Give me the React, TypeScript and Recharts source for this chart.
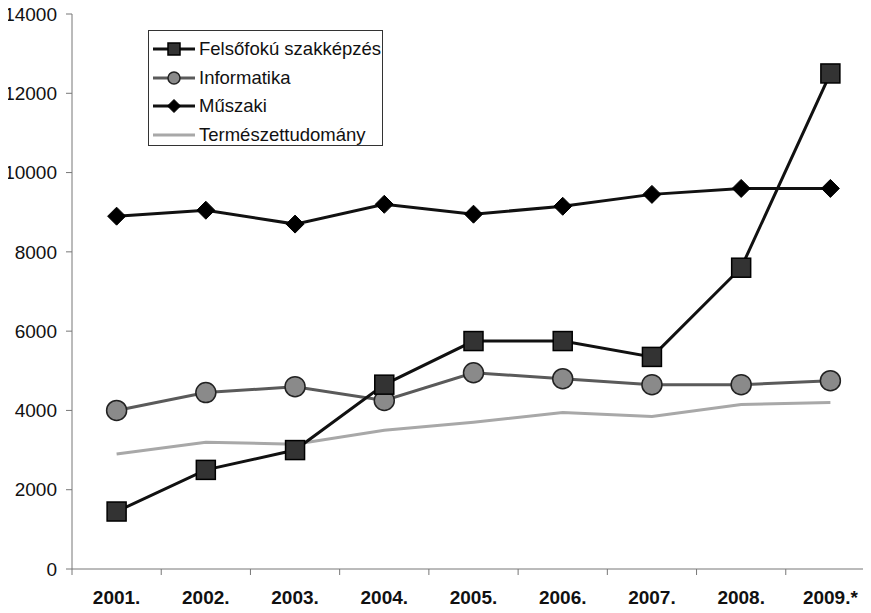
import { LineChart, Line, XAxis, YAxis, Legend } from "recharts";

const YEARS = ["2001.", "2002.", "2003.", "2004.", "2005.", "2006.", "2007.", "2008.", "2009.*"];
const FELSOFOKU = [1450, 2500, 3000, 4650, 5750, 5750, 5350, 7600, 12500];
const INFORMATIKA = [4000, 4450, 4600, 4250, 4950, 4800, 4650, 4650, 4750];
const MUSZAKI = [8900, 9050, 8700, 9200, 8950, 9150, 9450, 9600, 9600];
const TERMESZET = [2900, 3200, 3150, 3500, 3700, 3950, 3850, 4150, 4200];
const Y_TICKS = [0, 2000, 4000, 6000, 8000, 10000, 12000, 14000];

// category centres sit on whole numbers, the axis tick marks fall between them
const LABEL_TICKS = YEARS.map((_, i) => i + 1);
const GRID_TICKS = [0, ...LABEL_TICKS].map((v) => v + 0.5);
const X_DOMAIN = [0.5, YEARS.length + 0.5];

const data = YEARS.map((year, i) => ({
  year,
  idx: i + 1,
  felsofoku: FELSOFOKU[i],
  informatika: INFORMATIKA[i],
  muszaki: MUSZAKI[i],
  termeszet: TERMESZET[i],
}));

const FONT = "'Liberation Sans', Arial, sans-serif";

type Marker = "square" | "circle" | "diamond" | "none";

const SERIES: { key: string; name: string; color: string; marker: Marker }[] = [
  { key: "felsofoku", name: "Felsőfokú szakképzés", color: "#111", marker: "square" },
  { key: "informatika", name: "Informatika", color: "#5a5a5a", marker: "circle" },
  { key: "muszaki", name: "Műszaki", color: "#111", marker: "diamond" },
  { key: "termeszet", name: "Természettudomány", color: "#a8a8a8", marker: "none" },
];

function drawMarker(kind: Marker, cx: number, cy: number, size: number, key?: string) {
  const h = size / 2;
  if (kind === "square")
    return <rect key={key} x={cx - h} y={cy - h} width={size} height={size} fill="#333" stroke="#000" strokeWidth={1.5} />;
  if (kind === "circle")
    return <circle key={key} cx={cx} cy={cy} r={h} fill="#8a8a8a" stroke="#222" strokeWidth={1.5} />;
  if (kind === "diamond")
    return (
      <polygon
        key={key}
        points={`${cx},${cy - h} ${cx + h},${cy} ${cx},${cy + h} ${cx - h},${cy}`}
        fill="#000"
        stroke="#000"
      />
    );
  return <g key={key} />;
}

const dotFor = (kind: Marker, size: number) => (props: any) =>
  drawMarker(kind, props.cx, props.cy, size, `${kind}-${props.index}`);

function LegendBox() {
  return (
    <div
      style={{
        width: 235,
        height: 116,
        border: "1px solid #333",
        background: "#fff",
        padding: "4px 0 0 4px",
        boxSizing: "border-box",
        fontFamily: FONT,
        fontSize: 18.5,
        color: "#111",
      }}
    >
      {SERIES.map((s) => (
        <div key={s.key} style={{ display: "flex", alignItems: "center", height: 28.6 }}>
          <svg width={42} height={20} style={{ marginRight: 4 }}>
            <line x1={0} y1={10} x2={42} y2={10} stroke={s.color} strokeWidth={3} />
            {drawMarker(s.marker, 21, 10, s.marker === "diamond" ? 13 : 12)}
          </svg>
          <span>{s.name}</span>
        </div>
      ))}
    </div>
  );
}

export default function App() {
  return (
    <div style={{ margin: -8, width: 871, height: 613, overflow: "hidden", background: "#fff" }}>
      <LineChart width={875} height={613} data={data} margin={{ top: 14, right: 0, bottom: 0, left: 0 }}>
        {/* default id: placed right on the plot edge, draws the axis line and the tick marks */}
        <XAxis
          dataKey="idx"
          type="number"
          domain={X_DOMAIN}
          ticks={GRID_TICKS}
          tickFormatter={() => ""}
          tickSize={6}
          height={1}
          axisLine={{ stroke: "#777" }}
          tickLine={{ stroke: "#777" }}
        />
        <XAxis
          xAxisId="labels"
          dataKey="idx"
          type="number"
          domain={X_DOMAIN}
          ticks={LABEL_TICKS}
          tickFormatter={(v: number) => YEARS[v - 1]}
          height={43}
          axisLine={false}
          tickLine={false}
          tickSize={0}
          tickMargin={21}
          tick={{ fill: "#111", fontSize: 19, fontWeight: "bold", fontFamily: FONT }}
        />
        <YAxis
          domain={[0, 14000]}
          ticks={Y_TICKS}
          width={72}
          tickSize={6}
          tickMargin={9}
          axisLine={{ stroke: "#777" }}
          tickLine={{ stroke: "#777" }}
          tick={{ fill: "#111", fontSize: 19, fontFamily: FONT }}
        />
        <Legend
          layout="vertical"
          align="center"
          verticalAlign="middle"
          wrapperStyle={{ left: 148, top: 30, width: 235 }}
          content={() => <LegendBox />}
        />
        <Line
          dataKey="termeszet"
          name="Természettudomány"
          stroke="#a8a8a8"
          strokeWidth={3}
          dot={false}
          isAnimationActive={false}
        />
        <Line
          xAxisId="labels"
          dataKey="informatika"
          name="Informatika"
          stroke="#5a5a5a"
          strokeWidth={3}
          dot={dotFor("circle", 20)}
          isAnimationActive={false}
        />
        <Line
          xAxisId="labels"
          dataKey="muszaki"
          name="Műszaki"
          stroke="#111"
          strokeWidth={3}
          dot={dotFor("diamond", 18)}
          isAnimationActive={false}
        />
        <Line
          xAxisId="labels"
          dataKey="felsofoku"
          name="Felsőfokú szakképzés"
          stroke="#111"
          strokeWidth={3}
          dot={dotFor("square", 19)}
          isAnimationActive={false}
        />
      </LineChart>
    </div>
  );
}
